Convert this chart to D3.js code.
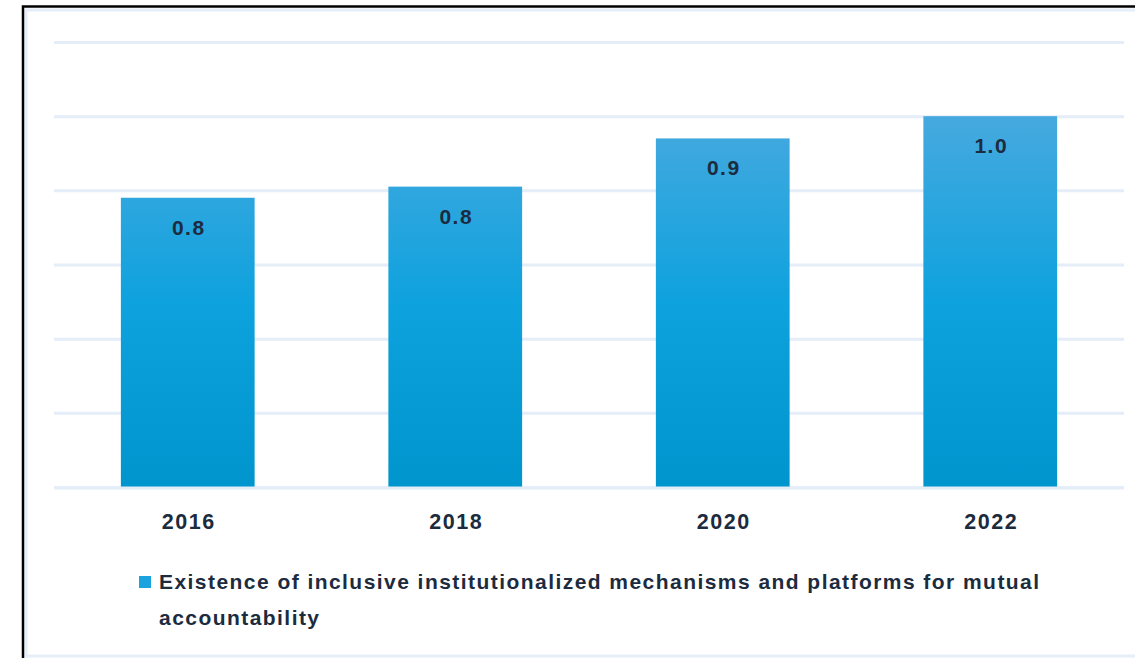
<!DOCTYPE html>
<html><head><meta charset="utf-8">
<script src="https://cdn.jsdelivr.net/npm/d3@7"></script>
<style>
html,body{margin:0;padding:0;background:#fff;}
svg{display:block;}
</style></head>
<body>
<script>
const categories = ["2016", "2018", "2020", "2022"];
const values = [0.78, 0.81, 0.94, 1.0];
const yTicks = [0, 0.2, 0.4, 0.6, 0.8, 1.0, 1.2];
const legendLines = ["Existence of inclusive institutionalized mechanisms and platforms for mutual", "accountability"];

const W = 1135, H = 658;
const FONT = "Liberation Sans, Arial, sans-serif";
const INK = "#1c2b3e";
const svg = d3.select("body").append("svg").attr("width", W).attr("height", H);

// frame
svg.append("rect").attr("x", 26).attr("y", 10).attr("width", W - 24).attr("height", H - 12)
  .attr("fill", "none").attr("stroke", "#e6eef8").attr("stroke-width", 3);
svg.append("path").attr("d", `M23,${H} L23,6.5 L${W},6.5`).attr("fill", "none")
  .attr("stroke", "#000").attr("stroke-width", 2.5);

const x = d3.scaleBand().domain(categories).range([54, 1124]).paddingInner(0.5).paddingOuter(0.25);
const y = d3.scaleLinear().domain([0, 1.2]).range([487, 42]);

const defs = svg.append("defs");
const grad = defs.append("linearGradient").attr("id", "bg")
  .attr("gradientUnits", "userSpaceOnUse").attr("x1", 0).attr("x2", 0).attr("y1", y(1.0)).attr("y2", y(0));
grad.append("stop").attr("offset", "0%").attr("stop-color", "#46a9df");
grad.append("stop").attr("offset", "50%").attr("stop-color", "#0ea2de");
grad.append("stop").attr("offset", "100%").attr("stop-color", "#0095cd");

// gridlines
const yAxis = d3.axisLeft(y).tickValues(yTicks).tickSize(-(1124 - 54)).tickFormat("");
const gy = svg.append("g").attr("transform", "translate(54,0)").call(yAxis);
gy.select(".domain").remove();
gy.selectAll(".tick line").attr("stroke", "#e4edf8").attr("stroke-width", 3);

// bars
svg.append("g").selectAll("rect").data(values).join("rect")
  .attr("x", (d, i) => x(categories[i]))
  .attr("y", d => y(d))
  .attr("width", x.bandwidth())
  .attr("height", d => y(0) - y(d))
  .attr("fill", "url(#bg)");

// baseline redraw over bars
svg.append("line").attr("x1", 54).attr("x2", 1124).attr("y1", y(0) + 1).attr("y2", y(0) + 1)
  .attr("stroke", "#e4edf8").attr("stroke-width", 3);

// value labels
svg.append("g").selectAll("text").data(values).join("text")
  .attr("x", (d, i) => x(categories[i]) + x.bandwidth() / 2 + 1)
  .attr("y", d => y(d) + 37)
  .attr("text-anchor", "middle")
  .attr("font-family", FONT).attr("letter-spacing", 1.5)
  .attr("font-weight", "bold").attr("font-size", 21).attr("fill", INK)
  .text(d => d3.format(".1f")(d));

// x axis labels
const xAxis = d3.axisBottom(x).tickSize(0).tickPadding(0);
const gx = svg.append("g").attr("transform", "translate(0,514)").call(xAxis);
gx.select(".domain").remove();
gx.selectAll("text").attr("font-family", FONT).attr("letter-spacing", 1.5).attr("dx", 1)
  .attr("font-weight", "bold").attr("font-size", 21.5).attr("fill", INK).attr("dy", "0.71em");

// legend
svg.append("rect").attr("x", 139).attr("y", 576).attr("width", 12).attr("height", 12).attr("fill", "#1aa3de");
svg.append("g").selectAll("text").data(legendLines).join("text")
  .attr("x", 159).attr("y", (d, i) => 589 + i * 36)
  .attr("font-family", FONT).attr("letter-spacing", 1.45)
  .attr("font-weight", "bold").attr("font-size", 21).attr("fill", INK)
  .text(d => d);
</script>
</body></html>
